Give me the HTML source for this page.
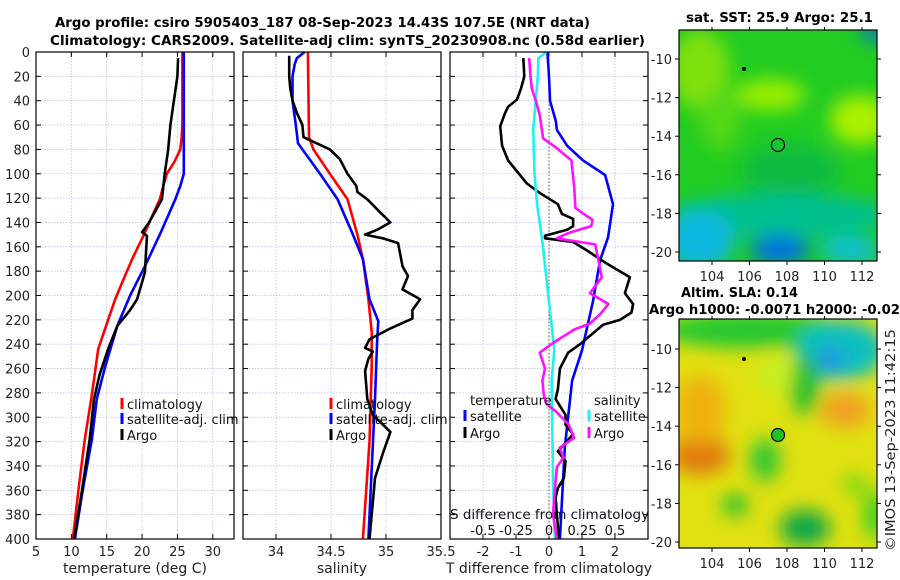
<!DOCTYPE html>
<html><head><meta charset="utf-8"><style>
html,body{margin:0;padding:0;background:#fff;}
svg{display:block;font-family:"DejaVu Sans","Liberation Sans",sans-serif;}
</style></head><body>
<svg id="chart" width="900" height="580" viewBox="0 0 900 580" xmlns="http://www.w3.org/2000/svg">
<defs>
<filter id="blur1" x="-20%" y="-20%" width="140%" height="140%"><feGaussianBlur stdDeviation="9"/></filter>
<clipPath id="clipTop"><rect x="679" y="30" width="198" height="231"/></clipPath>
<clipPath id="clipBot"><rect x="679" y="319" width="198" height="229"/></clipPath>
</defs>
<text x="55" y="27" textLength="535" lengthAdjust="spacingAndGlyphs" font-size="13" font-weight="bold">Argo profile: csiro 5905403_187 08-Sep-2023 14.43S 107.5E (NRT data)</text>
<text x="50" y="45" textLength="595" lengthAdjust="spacingAndGlyphs" font-size="13" font-weight="bold">Climatology: CARS2009. Satellite-adj clim: synTS_20230908.nc (0.58d earlier)</text>

<g>
<g clip-path="url(#clipTop)">
<rect x="679" y="30" width="198" height="231" fill="#22cc22"/>
<g filter="url(#blur1)">
<ellipse cx="700" cy="70" rx="30" ry="40" fill="#80e010"/>
<ellipse cx="770" cy="95" rx="35" ry="16" fill="#99ee00"/>
<ellipse cx="860" cy="120" rx="30" ry="25" fill="#aaf000"/>
<ellipse cx="720" cy="120" rx="20" ry="30" fill="#55d818"/>
<ellipse cx="790" cy="170" rx="50" ry="25" fill="#10bb40"/>
<ellipse cx="780" cy="215" rx="110" ry="22" fill="#00c090"/>
<ellipse cx="700" cy="240" rx="35" ry="30" fill="#10b8e0"/>
<ellipse cx="780" cy="250" rx="30" ry="15" fill="#0070e0"/>
<ellipse cx="850" cy="250" rx="30" ry="15" fill="#10c0d0"/>
<ellipse cx="875" cy="32" rx="15" ry="8" fill="#0060e0"/>
</g></g>
<rect x="679" y="30" width="198" height="231" fill="none" stroke="#000" stroke-width="1.2"/>
<ellipse cx="778" cy="145" rx="6.5" ry="6.5" fill="none" stroke="#000" stroke-width="1.2"/>
<circle cx="744" cy="69" r="2" fill="#000"/>
</g>
<text x="686" y="22" textLength="187" lengthAdjust="spacingAndGlyphs" font-size="13" font-weight="bold">sat. SST: 25.9 Argo: 25.1</text>

<g>
<g clip-path="url(#clipBot)">
<rect x="679" y="319" width="198" height="229" fill="#e0e010"/>
<g filter="url(#blur1)">
<ellipse cx="750" cy="330" rx="90" ry="18" fill="#20c830"/>
<ellipse cx="840" cy="350" rx="45" ry="30" fill="#10c0c0"/>
<ellipse cx="830" cy="360" rx="15" ry="12" fill="#2090e8"/>
<ellipse cx="805" cy="385" rx="15" ry="30" fill="#20c030"/>
<ellipse cx="700" cy="455" rx="30" ry="20" fill="#e07a10"/>
<ellipse cx="700" cy="410" rx="25" ry="35" fill="#f0b010"/>
<ellipse cx="845" cy="410" rx="25" ry="18" fill="#f0a020"/>
<ellipse cx="775" cy="375" rx="18" ry="20" fill="#c8f020"/>
<ellipse cx="765" cy="460" rx="15" ry="22" fill="#30c830"/>
<ellipse cx="735" cy="505" rx="13" ry="11" fill="#20c030"/>
<ellipse cx="805" cy="528" rx="25" ry="18" fill="#10a848"/>
<ellipse cx="875" cy="515" rx="12" ry="25" fill="#40d020"/>
<ellipse cx="855" cy="485" rx="12" ry="10" fill="#70d818"/>
</g></g>
<rect x="679" y="319" width="198" height="229" fill="none" stroke="#000" stroke-width="1.2"/>
<circle cx="778" cy="435" r="6.5" fill="#20c020" stroke="#000" stroke-width="1.2"/>
<circle cx="744" cy="359" r="2" fill="#000"/>
</g>
<text x="681" y="297" textLength="117" lengthAdjust="spacingAndGlyphs" font-size="13" font-weight="bold">Altim. SLA: 0.14</text>
<text x="649" y="314" textLength="251" lengthAdjust="spacingAndGlyphs" font-size="13" font-weight="bold">Argo h1000: -0.0071 h2000: -0.02</text>
<text transform="translate(895,440) rotate(-90)" text-anchor="middle" textLength="222" lengthAdjust="spacingAndGlyphs" font-size="13" fill="#222">©IMOS 13-Sep-2023 11:42:15</text>
<g id="plots"></g>
</svg>
<script>
// ---------- data ----------
const depthTicks = [0,20,40,60,80,100,120,140,160,180,200,220,240,260,280,300,320,340,360,380,400];
const tTicks = [5,10,15,20,25,30];
const sTicks = [34,34.5,35,35.5];
const dTicks = [-2,-1,0,1,2];
const dsTicks = [-0.5,-0.25,0,0.25,0.5];
const lonTicks = [104,106,108,110,112];
const latTicks = [-10,-12,-14,-16,-18,-20];

const climTDepth = [0,60,70,80,90,100,110,121,135,152,170,185,203,220,244,265,285,318,360,400];
const climT      = [25.7,25.7,25.6,25.4,24.6,23.5,23.0,22.5,21.4,20.1,18.6,17.5,16.2,15.2,13.8,13.3,12.8,11.9,11.0,10.2];
const satTDepth = [0,100,110,121,150,176,200,225,258,285,318,360,400];
const satT      = [25.9,25.9,25.4,24.7,22.5,20.4,18.3,16.5,14.8,13.6,12.9,11.6,10.5];
const argoTDepth = [5,20,40,60,80,100,121,140,148,151,160,181,203,212,225,244,265,285,318,360,400];
const argoT      = [25.1,25.0,24.5,24.0,23.7,23.2,22.8,21.0,20.0,20.7,20.6,20.4,19.3,18.3,16.5,15.2,14.0,13.2,12.6,11.5,10.4];

const climSDepth = [0,70,80,100,121,150,170,203,230,258,320,400];
const climS      = [34.29,34.30,34.34,34.49,34.65,34.74,34.79,34.84,34.87,34.87,34.85,34.79];
const satSDepth = [0,5,10,20,40,60,75,80,100,121,148,170,203,221,236,285,400];
const satS      = [34.26,34.19,34.17,34.15,34.15,34.18,34.20,34.24,34.40,34.56,34.69,34.79,34.85,34.93,34.92,34.90,34.84];
const argoSDepth = [3,20,30,40,50,60,70,75,80,88,100,110,115,121,132,140,146,150,153,157,176,184,195,203,212,219,227,236,243,246,252,262,285,298,312,330,350,380,400];
const argoS      = [34.12,34.12,34.13,34.15,34.19,34.24,34.25,34.37,34.49,34.58,34.65,34.73,34.74,34.83,34.95,35.04,34.92,34.81,34.97,35.11,35.15,35.20,35.15,35.31,35.24,35.24,35.04,34.85,34.81,34.88,34.84,34.81,34.83,34.88,35.04,34.97,34.90,34.87,34.85];

const dSatTDepth = [0,20,40,56,64,77,89,101,125,152,171,205,245,270,325,400];
const dSatT      = [-0.05,0.0,0.03,0.2,0.24,0.55,1.03,1.7,1.94,1.79,1.55,1.33,1.0,0.7,0.48,0.33];
const dArgoTDepth = [5,20,30,39,45,50,61,77,89,108,116,125,133,137,143,146,151,153,156,163,174,185,198,207,214,220,224,240,247,260,277,285,298,306,314,328,336,350,358,366,380,400];
const dArgoT      = [-0.78,-0.75,-0.85,-0.97,-1.24,-1.33,-1.48,-1.42,-1.24,-0.67,-0.27,0.27,0.39,0.73,0.73,0.55,-0.12,-0.12,0.73,1.15,1.76,2.45,2.3,2.55,2.5,2.15,1.64,0.94,0.58,0.33,0.27,0.2,0.5,0.5,0.73,0.27,0.5,0.45,0.27,0.2,0.24,0.3];
const dSatSDepth = [0,5,20,39,64,100,125,156,205,245,270,352,400];
const dSatS      = [-0.02,-0.08,-0.085,-0.1,-0.12,-0.11,-0.09,-0.05,0.0,0.04,0.02,0.03,0.045];
const dArgoSDepth = [5,20,30,40,52,71,79,89,110,128,132,138,143,149,153,158,185,198,207,215,223,228,239,247,260,270,281,289,295,306,317,325,333,341,352,380,400];
const dArgoS      = [-0.15,-0.14,-0.13,-0.1,-0.07,-0.045,0.06,0.17,0.19,0.2,0.25,0.33,0.32,0.14,0.06,0.35,0.40,0.31,0.45,0.39,0.31,0.19,0.03,-0.07,-0.03,-0.05,-0.04,-0.02,0.05,0.15,0.19,0.08,0.11,0.06,0.05,0.03,0.06];

// ---------- layout ----------
const Y0=52, Y1=539, DMAX=400;
const yD = d => Y0 + d/DMAX*(Y1-Y0);
const P1={x0:36,x1:234,min:5,max:33};
const P2={x0:243,x1:441,min:33.7,max:35.5};
const P3={x0:450,x1:648,min:-3,max:3};
const xOf=(p,v)=>p.x0+(v-p.min)/(p.max-p.min)*(p.x1-p.x0);
const xS3 = v => xOf(P3, v*4);

const NS='http://www.w3.org/2000/svg';
const root=document.getElementById('plots');
function mk(tag,attrs,parent){const e=document.createElementNS(NS,tag);for(const k in attrs)e.setAttribute(k,attrs[k]);(parent||root).appendChild(e);return e;}
function txt(s,attrs,parent){const e=mk('text',attrs,parent);e.textContent=s;return e;}

function panel(p,name,xticks,xfun,xlabelStr){
  const g=mk('g',{});
  
  
  depthTicks.forEach(d=>{ if(d>0&&d<DMAX) mk('line',{x1:p.x0,x2:p.x1,y1:yD(d),y2:yD(d),stroke:'#b8bfe8','stroke-width':0.8,'stroke-dasharray':'1.5,1.5'},g);});
  xticks.forEach(v=>{const x=xfun(v); if(x>p.x0+1&&x<p.x1-1) mk('line',{x1:x,x2:x,y1:Y0,y2:Y1,stroke:'#b8bfe8','stroke-width':0.8,'stroke-dasharray':'1.5,1.5'},g);});
  depthTicks.forEach(d=>{mk('line',{x1:p.x0,x2:p.x0+5,y1:yD(d),y2:yD(d),stroke:'#000'},g);mk('line',{x1:p.x1-5,x2:p.x1,y1:yD(d),y2:yD(d),stroke:'#000'},g);});
  xticks.forEach(v=>{const x=xfun(v);mk('line',{x1:x,x2:x,y1:Y1,y2:Y1-5,stroke:'#000'},g);mk('line',{x1:x,x2:x,y1:Y0,y2:Y0+5,stroke:'#000'},g);
    const t=txt(String(v),{x:x,y:556,'text-anchor':'middle','font-size':13,fill:'#222'},g);
    
    });
  const xl=txt(xlabelStr,{x:(p.x0+p.x1)/2,y:573,'text-anchor':'middle','font-size':14,fill:'#222'},g);
  
  
  return g;
}
function line(g,depths,vals,xf,color,name){
  const pts=depths.map((d,i)=>xf(vals[i]).toFixed(1)+','+yD(d).toFixed(1)).join(' ');
  const pl=mk('polyline',{points:pts,fill:'none',stroke:color,'stroke-width':2.6,'stroke-linejoin':'round'},g);
  
  
}
function frame(p){mk('rect',{x:p.x0,y:Y0,width:p.x1-p.x0,height:Y1-Y0,fill:'none',stroke:'#000','stroke-width':1.2});}
function legItem(g,x,y,color,label){
  mk('line',{x1:x,x2:x,y1:y-11,y2:y,stroke:color,'stroke-width':3},g);
  const t=txt(label,{x:x+5,y:y,'font-size':13,fill:'#111'},g);
  
  
}

depthTicks.forEach(d=>{const t=txt(String(d),{x:30,y:yD(d)+5,'text-anchor':'end','font-size':13,fill:'#222'});
  
  });

// panel 1
const g1=panel(P1,'temperature-panel',tTicks,v=>xOf(P1,v),'temperature (deg C)');
line(g1,climTDepth,climT,v=>xOf(P1,v),'#ff0000','climatology-temperature');
line(g1,satTDepth,satT,v=>xOf(P1,v),'#0000ff','satellite-temperature');
line(g1,argoTDepth,argoT,v=>xOf(P1,v),'#000','argo-temperature');
legItem(g1,122,409,'#ff0000','climatology');
legItem(g1,122,424,'#0000ff','satellite-adj. clim');
legItem(g1,122,440,'#000','Argo');
frame(P1);

// panel 2
const g2=panel(P2,'salinity-panel',sTicks,v=>xOf(P2,v),'salinity');
line(g2,climSDepth,climS,v=>xOf(P2,v),'#ff0000','climatology-salinity');
line(g2,satSDepth,satS,v=>xOf(P2,v),'#0000ff','satellite-salinity');
line(g2,argoSDepth,argoS,v=>xOf(P2,v),'#000','argo-salinity');
legItem(g2,331,409,'#ff0000','climatology');
legItem(g2,331,424,'#0000ff','satellite-adj. clim');
legItem(g2,331,440,'#000','Argo');
frame(P2);

// panel 3
const g3=panel(P3,'difference-panel',dTicks,v=>xOf(P3,v),'T difference from climatology');
mk('line',{x1:xOf(P3,0),x2:xOf(P3,0),y1:Y0,y2:Y1,stroke:'#556b2f','stroke-width':1,'stroke-dasharray':'1.5,2'},g3);
line(g3,dSatTDepth,dSatT,v=>xOf(P3,v),'#0000ff','satellite-temperature-difference');
line(g3,dArgoTDepth,dArgoT,v=>xOf(P3,v),'#000','argo-temperature-difference');
line(g3,dSatSDepth,dSatS,xS3,'#20f0f0','satellite-salinity-difference');
line(g3,dArgoSDepth,dArgoS,xS3,'#ff10ff','argo-salinity-difference');
const lt=txt('temperature',{x:470,y:405,'font-size':13,fill:'#111'},g3);


legItem(g3,465,421,'#0000ff','satellite');
legItem(g3,465,438,'#000','Argo');
const ls=txt('salinity',{x:594,y:405,'font-size':13,fill:'#111'},g3);


legItem(g3,589,421,'#20f0f0','satellite');
legItem(g3,589,438,'#ff10ff','Argo');
const st=txt('S difference from climatology',{x:450,y:519,'font-size':13.5,fill:'#111'},g3);


dsTicks.forEach(v=>{const t=txt(String(v),{x:xS3(v),y:535,'text-anchor':'middle','font-size':13,fill:'#111'},g3);
  
  });
frame(P3);

// map axes
function mapAxes(y0,y1,lat10y,ppd,name){
  const g=mk('g',{});
  
  
  lonTicks.forEach(l=>{const x=712+(l-104)*18.75;
    mk('line',{x1:x,x2:x,y1:y1,y2:y1+4,stroke:'#000'},g);
    mk('line',{x1:x,x2:x,y1:y0,y2:y0-3,stroke:'#000'},g);
    const t=txt(String(l),{x:x,y:y1+20,'text-anchor':'middle','font-size':13,fill:'#222'},g);
    
    });
  latTicks.forEach(l=>{const y=lat10y+(-10-l)*ppd;
    mk('line',{x1:675,x2:679,y1:y,y2:y,stroke:'#000'},g);
    mk('line',{x1:877,x2:881,y1:y,y2:y,stroke:'#000'},g);
    const t=txt(String(l),{x:672,y:y+5,'text-anchor':'end','font-size':13,fill:'#222'},g);
    
    });
}
mapAxes(30,261,59,19.3,'sst-map-axes');
mapAxes(319,548,349,19.3,'sla-map-axes');
</script>
</body></html>
